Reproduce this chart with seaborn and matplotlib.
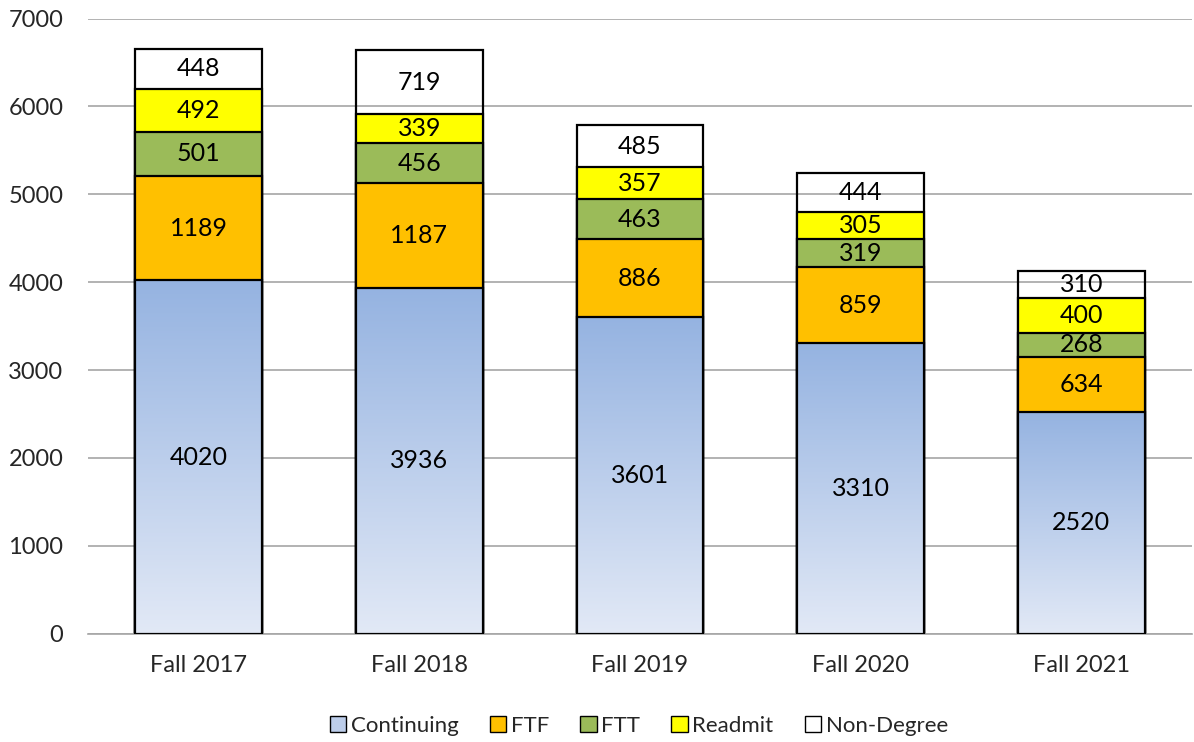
import numpy as np
import pandas as pd
import seaborn as sns
import matplotlib.pyplot as plt
from matplotlib.patches import Patch
from matplotlib.colors import to_rgb

terms = ["Fall 2017", "Fall 2018", "Fall 2019", "Fall 2020", "Fall 2021"]
continuing = [4020, 3936, 3601, 3310, 2520]
ftf = [1189, 1187, 886, 859, 634]
ftt = [501, 456, 463, 319, 268]
readmit = [492, 339, 357, 305, 400]
non_degree = [448, 719, 485, 444, 310]

groups = ["Continuing", "FTF", "FTT", "Readmit", "Non-Degree"]
series = [continuing, ftf, ftt, readmit, non_degree]
colors = ["#a6bfe6", "#ffc000", "#9bbb59", "#ffff00", "white"]

df = pd.DataFrame(dict(zip(groups, series)), index=terms)
cum = df.cumsum(axis=1)

sns.set_style("white")
plt.rcParams["font.family"] = ["Lato", "DejaVu Sans"]

fig = plt.figure(figsize=(11.94, 7.42), dpi=100)
ax = fig.add_axes([0.074, 0.146, 0.924, 0.829])

W = 0.575
# tallest cumulative first, then overplot lower layers
for i in range(len(groups) - 1, 0, -1):
    g = groups[i]
    face = "none" if g == "Non-Degree" else colors[i]
    sns.barplot(x=terms, y=cum[g].values, ax=ax, color=colors[i], width=W,
                saturation=1, edgecolor="black", linewidth=1.6, zorder=2)
    for p in ax.patches[-len(terms):]:
        p.set_facecolor(face)

# Continuing with vertical gradient
sns.barplot(x=terms, y=cum["Continuing"].values, ax=ax, color=colors[0], width=W,
            saturation=1, edgecolor="black", linewidth=1.6, zorder=4)
top_c = np.array(to_rgb("#95b3e1"))
bot_c = np.array(to_rgb("#e2e9f6"))
t = np.linspace(0, 1, 256)[:, None]
grad = (bot_c * (1 - t) + top_c * t)[:, None, :]
for p in ax.patches[-len(terms):]:
    x0, y0 = p.get_x(), p.get_y()
    w, h = p.get_width(), p.get_height()
    im = ax.imshow(grad, extent=[x0, x0 + w, y0, y0 + h], origin="lower",
                   aspect="auto", zorder=3.5)
    im.set_clip_path(p)
    p.set_facecolor("none")

# segment labels
for j, term in enumerate(terms):
    base = 0
    for g in groups:
        v = df.loc[term, g]
        ax.text(j, base + v / 2, str(v), ha="center", va="center",
                fontsize=18, color="black", zorder=6)
        base += v

ax.set_xlim(-0.5, 4.5)
ax.set_ylim(0, 7000)
ax.set_yticks(range(0, 7001, 1000))
ax.yaxis.grid(True, color="#a6a6a6", linewidth=1.2)
ax.set_axisbelow(True)
for s in ["top", "right", "left"]:
    ax.spines[s].set_visible(False)
ax.spines["bottom"].set_color("#a6a6a6")
ax.spines["bottom"].set_linewidth(1.2)
ax.tick_params(axis="both", length=0, labelsize=17)
ax.tick_params(axis="x", pad=15)
ax.tick_params(axis="y", pad=18)
ax.set_xlabel("")
ax.set_ylabel("")

handles = [Patch(facecolor=c, edgecolor="black", linewidth=1.0) for c in colors]
handles[0] = Patch(facecolor="#bccdea", edgecolor="black", linewidth=1.0)
fig.legend(handles, groups, loc="center", bbox_to_anchor=(0.535, 0.022), ncol=5,
           frameon=False, fontsize=16, handlelength=0.75, handleheight=0.75,
           handletextpad=0.2, columnspacing=1.4)

fig.savefig("out.png", dpi=100)
